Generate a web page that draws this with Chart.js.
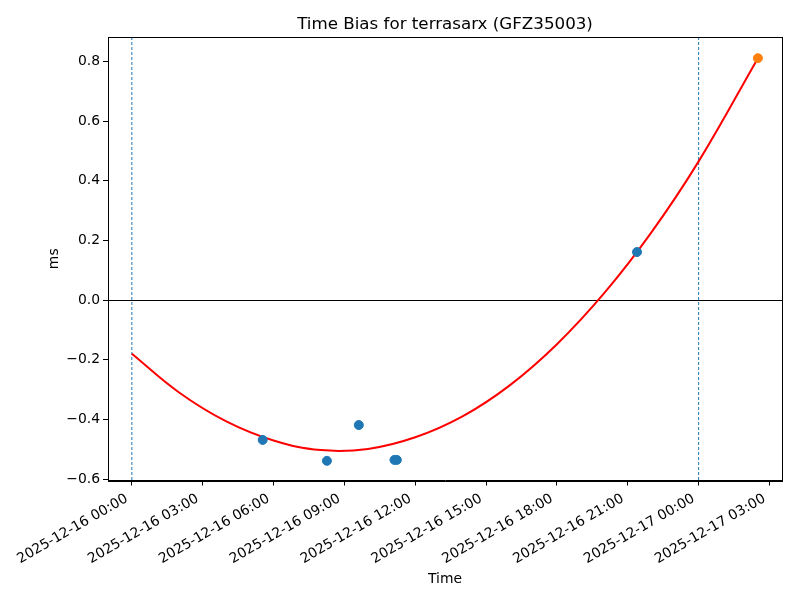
<!DOCTYPE html>
<html>
<head>
<meta charset="utf-8">
<title>Time Bias for terrasarx (GFZ35003)</title>
<script src="https://cdn.jsdelivr.net/npm/chart.js@4.4.1/dist/chart.umd.min.js"></script>
<style>
  html, body { margin: 0; padding: 0; background: #fff; }
  #wrap { width: 800px; height: 600px; }
</style>
</head>
<body>
<div id="wrap"><canvas id="biasChart" width="800" height="600"></canvas></div>
<script>
// x values are hours after 2025-12-16 00:00, y values in ms
const obsHours = [5.54, 8.26, 9.61, 11.12, 11.22, 21.39];
const obsBias = [-0.469, -0.539, -0.419, -0.536, -0.536, 0.161];

const predHours = [26.51];
const predBias = [0.811];

// red fit curve
const fitHours = [0, 2, 4, 6, 8, 10, 12, 14, 16, 18, 20, 22, 24, 26.51];
const fitBias = [-0.180, -0.310, -0.407, -0.471, -0.503, -0.499, -0.460, -0.390, -0.286, -0.148, 0.023, 0.227, 0.465, 0.811];

const xTickHours = [0, 3, 6, 9, 12, 15, 18, 21, 24, 27];
const xTickLabels = [
    '2025-12-16 00:00', '2025-12-16 03:00', '2025-12-16 06:00', '2025-12-16 09:00',
    '2025-12-16 12:00', '2025-12-16 15:00', '2025-12-16 18:00', '2025-12-16 21:00',
    '2025-12-17 00:00', '2025-12-17 03:00'
];
const yTicks = [-0.6, -0.4, -0.2, 0.0, 0.2, 0.4, 0.6, 0.8];

const dayMarkHours = [0, 24];
const zeroLine = [0];

const FONT = 'DejaVu Sans';

function toPoints(xs, ys) {
    return xs.map((x, i) => ({ x: x, y: ys[i] }));
}

// frame, reference lines and the texts matplotlib puts around the axes
const framePlugin = {
    id: 'frame',
    beforeDatasetsDraw(chart) {
        const ctx = chart.ctx;
        const area = chart.chartArea;
        const xs = chart.scales.x;
        const ys = chart.scales.y;
        ctx.save();
        ctx.beginPath();
        ctx.rect(area.left, area.top, area.right - area.left, area.bottom - area.top);
        ctx.clip();

        ctx.strokeStyle = '#1f77b4';
        ctx.lineWidth = 1;
        ctx.setLineDash([3, 2]);
        dayMarkHours.forEach(h => {
            const px = xs.getPixelForValue(h);
            ctx.beginPath();
            ctx.moveTo(px, area.top);
            ctx.lineTo(px, area.bottom);
            ctx.stroke();
        });

        ctx.setLineDash([]);
        ctx.strokeStyle = '#000';
        zeroLine.forEach(v => {
            const py = Math.round(ys.getPixelForValue(v)) + 0.5;
            ctx.beginPath();
            ctx.moveTo(area.left, py);
            ctx.lineTo(area.right, py);
            ctx.stroke();
        });
        ctx.restore();
    },
    afterDraw(chart) {
        const ctx = chart.ctx;
        const area = chart.chartArea;
        ctx.save();
        ctx.strokeStyle = '#000';
        ctx.lineWidth = 1;
        ctx.strokeRect(Math.round(area.left) + 0.5, Math.round(area.top) + 0.5,
            Math.round(area.right - area.left), Math.round(area.bottom - area.top));

        const cx = (area.left + area.right) / 2;
        const cy = (area.top + area.bottom) / 2;
        ctx.fillStyle = '#000';
        ctx.textAlign = 'center';
        ctx.textBaseline = 'alphabetic';

        ctx.font = '16.7px "' + FONT + '"';
        ctx.fillText('Time Bias for terrasarx (GFZ35003)', cx, 29);

        ctx.font = '13.9px "' + FONT + '"';
        ctx.fillText('Time', cx, 583);

        ctx.translate(58, cy);
        ctx.rotate(-Math.PI / 2);
        ctx.fillText('ms', 0, 0);
        ctx.restore();
    }
};

new Chart(document.getElementById('biasChart'), {
    type: 'scatter',
    data: {
        datasets: [
            {
                label: 'Predicted',
                data: toPoints(predHours, predBias),
                backgroundColor: '#ff7f0e',
                borderColor: '#ff7f0e',
                pointRadius: 4.5,
                order: 0
            },
            {
                label: 'Observed',
                data: toPoints(obsHours, obsBias),
                backgroundColor: '#1f77b4',
                borderColor: '#1f77b4',
                pointRadius: 4.5,
                order: 1
            },
            {
                label: 'Fit',
                data: toPoints(fitHours, fitBias),
                showLine: true,
                borderColor: '#ff0000',
                borderWidth: 2,
                pointRadius: 0,
                tension: 0.4,
                order: 2
            }
        ]
    },
    options: {
        responsive: false,
        animation: false,
        devicePixelRatio: 1,
        layout: { padding: { top: 37, right: 18, left: 0, bottom: 0 } },
        plugins: {
            legend: { display: false },
            title: { display: false },
            tooltip: { enabled: false }
        },
        scales: {
            x: {
                type: 'linear',
                min: -1.01,
                max: 27.53,
                afterBuildTicks: scale => { scale.ticks = xTickHours.map(v => ({ value: v })); },
                afterFit: scale => { scale.height = 119.5; },
                ticks: {
                    autoSkip: false,
                    minRotation: 30,
                    maxRotation: 30,
                    padding: 5,
                    labelOffset: -5,
                    color: '#000',
                    font: { family: FONT, size: 13.9 },
                    callback: (value, index) => xTickLabels[index]
                },
                grid: { display: true, drawOnChartArea: false, drawTicks: true, tickLength: 5, color: '#000', lineWidth: 1 },
                border: { display: true, color: '#000', width: 1 }
            },
            y: {
                type: 'linear',
                min: -0.605,
                max: 0.882,
                afterBuildTicks: scale => { scale.ticks = yTicks.map(v => ({ value: v })); },
                afterFit: scale => { scale.width = 108; },
                ticks: {
                    padding: 3,
                    color: '#000',
                    font: { family: FONT, size: 13.9 },
                    callback: value => value.toFixed(1).replace('-', '\u2212')
                },
                grid: { display: true, drawOnChartArea: false, drawTicks: true, tickLength: 5, color: '#000', lineWidth: 1 },
                border: { display: true, color: '#000', width: 1 }
            }
        }
    },
    plugins: [framePlugin]
});
</script>
</body>
</html>
